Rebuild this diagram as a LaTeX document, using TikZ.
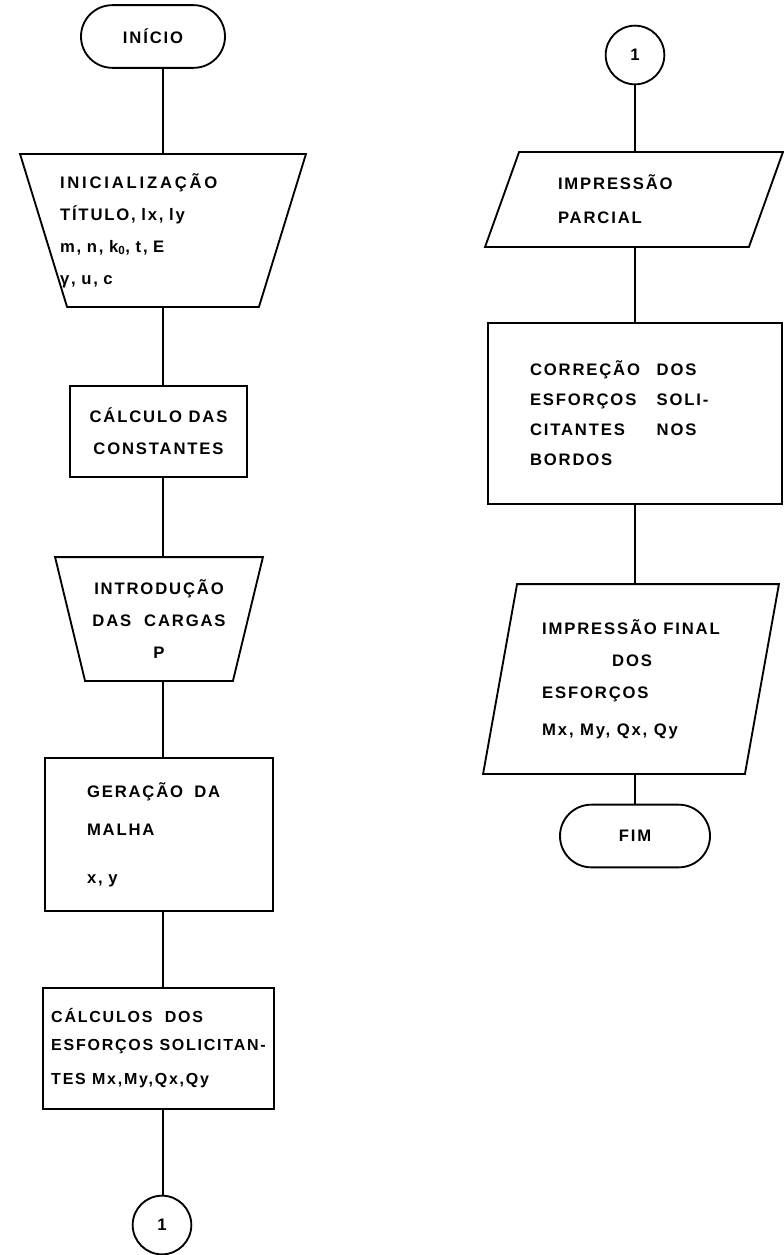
\documentclass[tikz,border=0pt]{standalone}
\usepackage{fontspec}
\newfontfamily\flowfont{Liberation Sans Bold}[LetterSpace=11]
\usetikzlibrary{shapes.misc}

\begin{document}
\begin{tikzpicture}[x=0.75pt,y=-0.75pt,line width=1.4pt,
  every node/.style={font=\flowfont\fontsize{12.5}{24}\selectfont,inner sep=0pt},
  termnode/.style={draw,rounded rectangle,minimum height=47pt},
  procnode/.style={draw,rectangle,align=left},
  ionode/.style={rectangle,align=left},
  connode/.style={draw,circle,minimum size=44pt}]
\useasboundingbox (0,0) rectangle (783,1255);
\coordinate (colL) at (163,0);
\coordinate (colR) at (635,0);

\node[termnode,minimum width=108pt] (inicio) at (153,36.5) {INÍCIO};
\node[ionode,minimum width=213pt,minimum height=113.25pt,text width=154.5pt] (init) at (163,230.5)
  {I\,N\,I\,C\,I\,A\,L\,I\,Z\,A\,Ç\,Ã\,O\\ TÍTULO, lx, ly\\ m, n, k\textsubscript{0}, t, E\\ γ, u, c};
\node[procnode,align=center,minimum width=132.75pt,minimum height=68.25pt] (const) at (158.5,431.5)
  {CÁLCULO DAS\\ CONSTANTES};
\node[ionode,align=center,minimum width=154.5pt,minimum height=91.5pt] (intro) at (159,619)
  {INTRODUÇÃO\\ DAS\ \ CARGAS\\ P};
\node[procnode,minimum width=171pt,minimum height=114.75pt,text width=108pt] (geracao) at (159,834.5)
  {GERAÇÃO\ \ DA\\[4.5pt] MALHA\\[12pt] x, y};
\node[procnode,font=\flowfont\fontsize{12}{24}\selectfont,minimum width=173.25pt,minimum height=90.75pt] (calculos) at (158.5,1048.5)
  {CÁLCULOS\ \ DOS\\[-3pt] ESFORÇOS SOLICITAN-\\[1.5pt] TES Mx,My,Qx,Qy};
\node[connode] (conA) at (162,1225) {1};

\node[connode] (conB) at (635,55) {1};
\node[ionode,minimum width=222pt,minimum height=69.75pt,text width=114pt] (parcial) at (634,199.5)
  {IMPRESSÃO\\[1.5pt] PARCIAL};
\node[procnode,minimum width=220.5pt,minimum height=135.75pt,text width=157.5pt] (correcao) at (635,413.5)
  {\makebox[95pt][l]{CORREÇÃO}DOS\\[-1.5pt] \makebox[95pt][l]{ESFORÇOS}SOLI-\\[-1.5pt]
   \makebox[95pt][l]{CITANTES}NOS\\[-1.5pt] BORDOS};
\node[ionode,minimum width=220.5pt,minimum height=141pt] (final) at (631,679)
  {IMPRESSÃO FINAL\\ \hspace*{52.5pt}DOS\\ ESFORÇOS\\[4pt] Mx, My, Qx, Qy};
\node[termnode,minimum width=112.5pt] (fim) at (635,836) {FIM};

\foreach \n/\d in {init/35.25pt,intro/22.5pt}
  \draw (\n.north west) -- (\n.north east) -- ([xshift=-\d]\n.south east)
    -- ([xshift=\d]\n.south west) -- cycle;
\foreach \n in {parcial,final}
  \draw ([xshift=25.5pt]\n.north west) -- (\n.north east)
    -- ([xshift=-25.5pt]\n.south east) -- (\n.south west) -- cycle;

\foreach \a/\b in {inicio/init,init/const,const/intro,intro/geracao,geracao/calculos,calculos/conA}
  \draw (colL |- \a.south) -- (colL |- \b.north);
\foreach \a/\b in {conB/parcial,parcial/correcao,correcao/final,final/fim}
  \draw (colR |- \a.south) -- (colR |- \b.north);
\end{tikzpicture}
\end{document}
